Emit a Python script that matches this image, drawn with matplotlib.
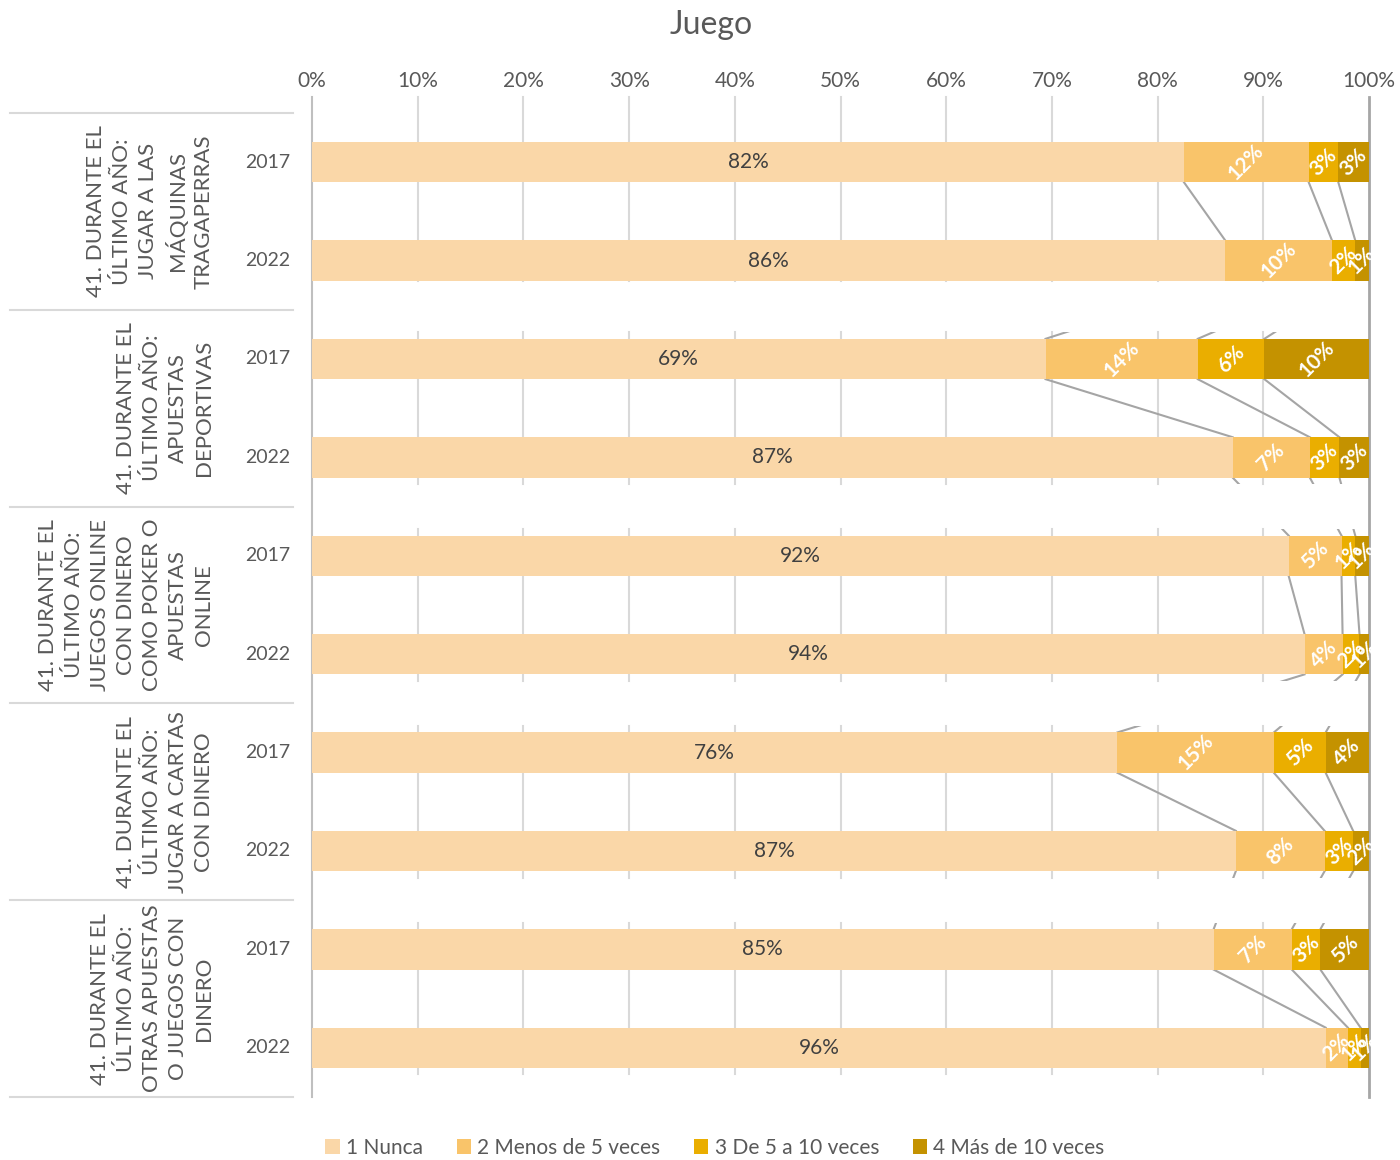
import numpy as np
import matplotlib
matplotlib.use("Agg")
import matplotlib.pyplot as plt
import matplotlib.transforms as mtransforms
from matplotlib.patches import Rectangle

plt.rcParams['font.family'] = ['Lato', 'DejaVu Sans']

# --- data ---
groups = [
    "41. DURANTE EL\nÚLTIMO AÑO:\nJUGAR A LAS\nMÁQUINAS\nTRAGAPERRAS",
    "41. DURANTE EL\nÚLTIMO AÑO:\nAPUESTAS\nDEPORTIVAS",
    "41. DURANTE EL\nÚLTIMO AÑO:\nJUEGOS ONLINE\nCON DINERO\nCOMO POKER O\nAPUESTAS\nONLINE",
    "41. DURANTE EL\nÚLTIMO AÑO:\nJUGAR A CARTAS\nCON DINERO",
    "41. DURANTE EL\nÚLTIMO AÑO:\nOTRAS APUESTAS\nO JUEGOS CON\nDINERO",
]
years = ["2017", "2022"]
series_names = ["1 Nunca", "2 Menos de 5 veces", "3 De 5 a 10 veces", "4 Más de 10 veces"]
colors = ["#FAD7A8", "#F9C46A", "#EAAE00", "#C49200"]

# one entry per bar, order: g1-2017, g1-2022, g2-2017, ...
nunca = [82.5, 86.4, 69.4, 87.1, 92.4, 93.9, 76.2, 87.4, 85.3, 95.9]
menos5 = [11.8, 10.1, 14.4, 7.3, 5.0, 3.6, 14.8, 8.4, 7.4, 2.1]
de5a10 = [2.8, 2.2, 6.3, 2.8, 1.3, 1.6, 4.9, 2.7, 2.7, 1.2]
mas10 = [2.9, 1.3, 9.9, 2.8, 1.3, 0.9, 4.1, 1.5, 4.6, 0.8]
labels_nunca = ["82%", "86%", "69%", "87%", "92%", "94%", "76%", "87%", "85%", "96%"]
labels_menos5 = ["12%", "10%", "14%", "7%", "5%", "4%", "15%", "8%", "7%", "2%"]
labels_de5a10 = ["3%", "2%", "6%", "3%", "1%", "2%", "5%", "3%", "3%", "1%"]
labels_mas10 = ["3%", "1%", "10%", "3%", "1%", "1%", "4%", "2%", "5%", "1%"]

values = np.array([nunca, menos5, de5a10, mas10])
labels = [labels_nunca, labels_menos5, labels_de5a10, labels_mas10]

fig = plt.figure(figsize=(14, 11.6), dpi=100)
ax = fig.add_axes([312 / 1400, 1 - 1097 / 1160, 1057 / 1400, 984 / 1160])

n = values.shape[1]
ypos = np.arange(n)
bh = 0.41
pad = 0.065

# bands where grid and series lines are visible
bands = []
for g in range(len(groups)):
    y0 = 2 * g - bh / 2 - pad
    y1 = 2 * g + 1 + bh / 2 + pad
    if g == 0:
        y0 = -0.66
        y1 = 1 + bh / 2
    bands.append((y0, y1))

# gridlines
for gx in range(10, 100, 10):
    for y0, y1 in bands:
        ax.plot([gx, gx], [y0, y1], color="#D9D9D9", lw=1.5, zorder=1, clip_on=False)
ax.plot([100, 100], [-0.66, n - 0.5], color="#A6A6A6", lw=2, zorder=1, clip_on=False)
ax.plot([0, 0], [-0.66, n - 0.5], color="#BFBFBF", lw=1.5, zorder=1, clip_on=False)

# series lines
cum = np.cumsum(values, axis=0)
for i in range(n - 1):
    for k in range(3):
        x1, x2 = cum[k, i], cum[k, i + 1]
        for y0, y1 in bands:
            ln, = ax.plot([x1, x2], [i + bh / 2, i + 1 - bh / 2],
                          color="#A5A5A5", lw=1.5, zorder=1)
            ln.set_clip_path(Rectangle((-5, y0), 110, y1 - y0, transform=ax.transData))

# bars
left = np.zeros(n)
for k in range(4):
    ax.barh(ypos, values[k], left=left, height=bh, color=colors[k],
            label=series_names[k], zorder=2)
    for i in range(n):
        cx = left[i] + values[k, i] / 2
        if k == 0:
            ax.text(cx, ypos[i], labels[k][i], ha="center", va="center",
                    fontsize=15, color="#404040", zorder=3)
        else:
            ax.text(cx, ypos[i], labels[k][i], ha="center", va="center",
                    fontsize=15, color="white", fontweight="bold",
                    rotation=45, zorder=3)
    left += values[k]

ax.set_xlim(0, 100)
ax.set_ylim(n - 0.5, -0.5)
ax.set_xticks(range(0, 101, 10))
ax.set_xticklabels([f"{t}%" for t in range(0, 101, 10)])
ax.xaxis.tick_top()
ax.tick_params(axis="x", length=0, labelsize=15, labelcolor="#595959", pad=16)
ax.set_yticks([])
for s in ax.spines.values():
    s.set_visible(False)

# year labels and group labels
trans = mtransforms.blended_transform_factory(fig.transFigure, ax.transData)
for i in range(n):
    ax.text(290 / 1400, ypos[i], years[i % 2], transform=trans, ha="right",
            va="center", fontsize=14, color="#595959")
for g, name in enumerate(groups):
    ax.text(214 / 1400, 2 * g + 0.5, name, transform=trans, ha="right",
            va="center", rotation=90, multialignment="center",
            fontsize=16, color="#595959", linespacing=1.38)
for yb in np.arange(-0.5, n, 2):
    ax.plot([10 / 1400, 293 / 1400], [yb, yb], transform=trans,
            color="#D9D9D9", lw=1.5, clip_on=False)

fig.text(711 / 1400, 1 - 25 / 1160, "Juego", ha="center", va="center",
         fontsize=23, color="#595959")

fig.legend(loc="center", bbox_to_anchor=(715 / 1400, 1 - 1148 / 1160), ncol=4,
           frameon=False, fontsize=15, handlelength=0.7, handleheight=0.7,
           handletextpad=0.3, columnspacing=1.6, labelcolor="#595959")

fig.savefig("out.png", dpi=100)
